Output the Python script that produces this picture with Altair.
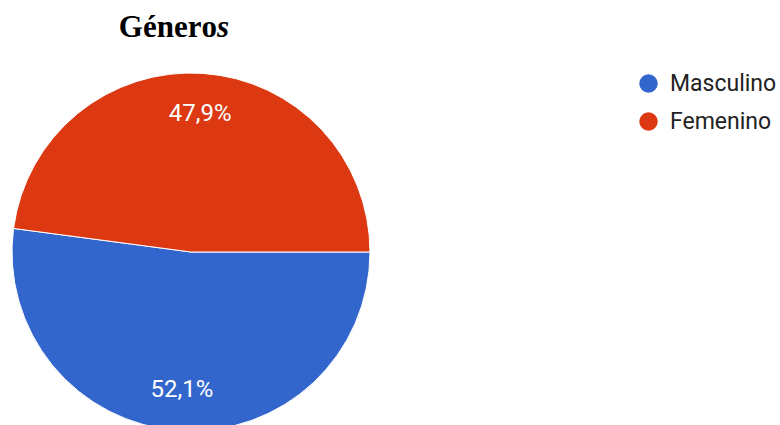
import altair as alt
import pandas as pd
import math

categories = ["Masculino", "Femenino"]
values = [52.1, 47.9]
labels = ["52,1%", "47,9%"]
colors = ["#3366cc", "#dc3912"]

df = pd.DataFrame({"genero": categories, "valor": values, "etiqueta": labels, "orden": [0, 1]})

CX, CY, R = 191, 252, 179
theta_scale = alt.Scale(range=[math.pi / 2, math.pi / 2 + 2 * math.pi])

base = alt.Chart(df).encode(
    theta=alt.Theta("valor:Q", stack=True, scale=theta_scale),
    order=alt.Order("orden:Q"),
)

pie = base.mark_arc(x=CX, y=CY, outerRadius=R, stroke="white", strokeWidth=1).encode(
    color=alt.Color(
        "genero:N",
        scale=alt.Scale(domain=categories, range=colors),
        sort=categories,
        legend=alt.Legend(
            title=None,
            orient="none",
            legendX=637,
            legendY=72,
            symbolType="circle",
            symbolSize=340,
            symbolStrokeWidth=0,
            labelFont="Roboto",
            labelFontSize=23,
            labelColor="#222222",
            rowPadding=14,
            labelOffset=10,
        ),
    )
)

txt = base.mark_text(
    x=CX, y=CY, radius=138, font="Roboto", fontSize=24, color="white", baseline="middle"
).encode(text="etiqueta:N")

title1 = alt.Chart(pd.DataFrame({"t": ["Génerо"]})).mark_text(
    x=217, y=37, align="right", baseline="alphabetic", font="Liberation Serif",
    fontSize=31, fontWeight="bold", color="black"
).encode(text="t:N")
title2 = alt.Chart(pd.DataFrame({"t": ["s"]})).mark_text(
    x=217, y=37, align="left", baseline="alphabetic", font="Liberation Serif",
    fontSize=31, fontWeight="bold", fontStyle="italic", color="black"
).encode(text="t:N")

chart = alt.layer(pie, txt, title1, title2).properties(
    width=780, height=425, padding=0, autosize=alt.AutoSizeParams(type="none")
).configure_view(stroke=None)

chart.save("out.html", embed_options={"renderer": "svg", "actions": False})
